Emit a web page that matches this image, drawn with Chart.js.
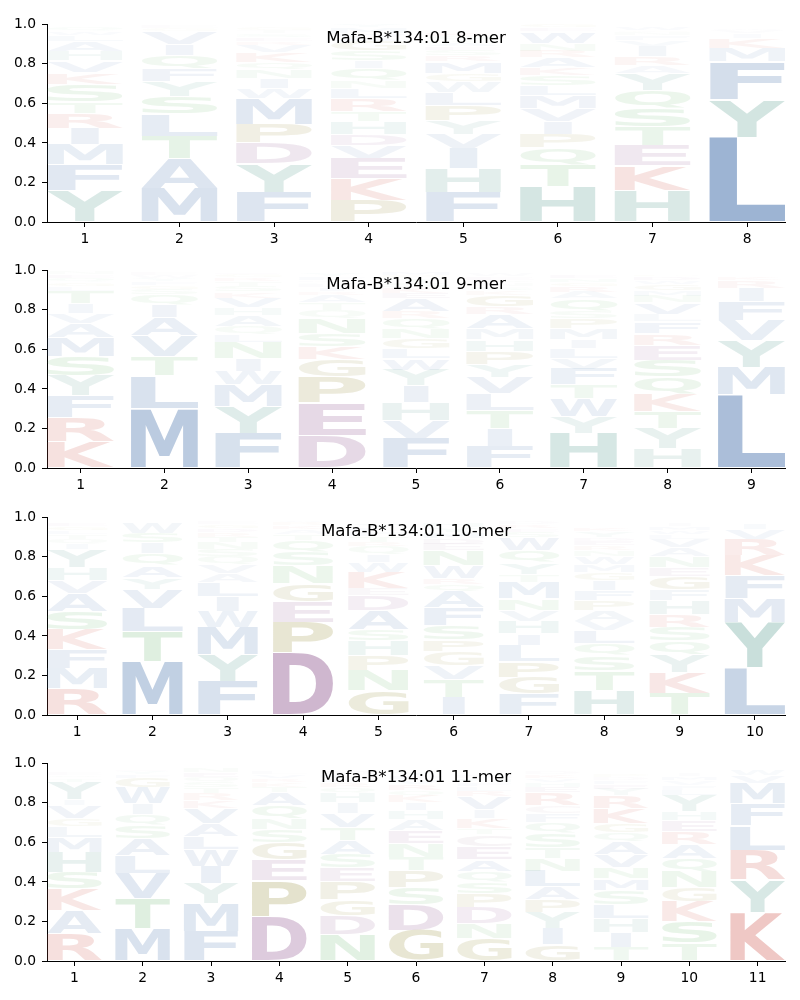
<!DOCTYPE html>
<html>
<head>
<meta charset="utf-8">
<script src="https://cdn.jsdelivr.net/npm/chart.js@4.4.1/dist/chart.umd.min.js"></script>
<style>
  body { margin: 0; background: #fff; }
  #wrap { position: relative; width: 800px; height: 1000px; overflow: hidden; }
  canvas { position: absolute; left: 0; }
</style>
</head>
<body>
<div id="wrap">
  <canvas id="c8" width="800" height="242" style="top:10px"></canvas>
  <canvas id="c9" width="800" height="242" style="top:256px"></canvas>
  <canvas id="c10" width="800" height="242" style="top:503px"></canvas>
  <canvas id="c11" width="800" height="242" style="top:749px"></canvas>
</div>
<script>
// letter frequencies per position, listed bottom -> top
const mer8 = [
  [['Y',.16],['F',.13],['M',.10],['I',.085],['R',.075],['T',.06],['S',.085],['K',.06],['V',.06],['H',.05],['A',.05],['L',.03],['W',.02],['Q',.02]],
  [['M',.17],['A',.15],['T',.115],['L',.11],['S',.09],['Y',.075],['F',.065],['Q',.065],['I',.06],['V',.065],['G',.015],['E',.015]],
  [['F',.15],['Y',.145],['D',.105],['P',.095],['M',.13],['W',.05],['I',.05],['N',.045],['Q',.035],['K',.05],['V',.04],['R',.02],['E',.02],['S',.02],['T',.015],['G',.015]],
  [['P',.11],['K',.11],['E',.10],['V',.065],['D',.06],['H',.065],['T',.05],['R',.065],['L',.05],['N',.04],['Q',.06],['I',.04],['S',.05],['G',.05],['A',.02],['W',.02],['M',.03],['Y',.015]],
  [['F',.15],['H',.12],['I',.10],['V',.075],['Y',.07],['P',.075],['L',.065],['W',.055],['G',.04],['M',.06],['R',.03],['S',.03],['E',.02],['A',.02],['T',.01],['Q',.02],['K',.02]],
  [['H',.18],['T',.11],['Q',.085],['P',.07],['I',.065],['V',.065],['M',.065],['L',.05],['S',.05],['K',.04],['A',.05],['R',.035],['N',.04],['W',.06],['E',.02],['G',.02]],
  [['H',.16],['K',.125],['E',.10],['T',.095],['S',.095],['Q',.09],['Y',.085],['A',.04],['R',.045],['I',.055],['V',.03],['F',.025],['N',.015],['G',.01],['W',.02]],
  [['L',.43],['Y',.19],['F',.19],['M',.07],['K',.05],['I',.025],['V',.015],['W',.01]]
];

const mer9 = [
  [['K',.135],['R',.12],['F',.11],['Y',.10],['S',.10],['M',.095],['A',.07],['V',.05],['I',.05],['T',.065],['L',.025],['G',.02],['Q',.02],['E',.02],['N',.015]],
  [['M',.30],['L',.165],['T',.10],['V',.105],['A',.09],['I',.065],['Q',.05],['S',.03],['G',.02],['F',.02],['Y',.015],['W',.015],['E',.015]],
  [['F',.175],['Y',.135],['M',.11],['W',.07],['I',.065],['N',.08],['L',.04],['Q',.04],['A',.055],['H',.04],['V',.05],['K',.03],['S',.03],['T',.025],['R',.02],['G',.015],['E',.01]],
  [['D',.165],['E',.165],['P',.13],['G',.09],['K',.065],['S',.065],['N',.075],['Q',.04],['T',.04],['A',.04],['R',.02],['I',.02],['L',.015],['H',.01],['M',.01],['F',.02],['Y',.015]],
  [['F',.15],['V',.09],['H',.09],['I',.085],['Y',.08],['W',.06],['L',.05],['G',.05],['N',.05],['Q',.05],['R',.035],['A',.065],['E',.03],['K',.03],['S',.025],['T',.02],['P',.015],['M',.02]],
  [['F',.11],['I',.09],['T',.09],['L',.085],['V',.085],['Y',.065],['P',.065],['H',.06],['M',.055],['A',.07],['R',.04],['G',.06],['K',.025],['S',.02],['N',.015],['Q',.015],['E',.02],['W',.015]],
  [['H',.175],['Y',.085],['W',.09],['T',.07],['F',.08],['V',.055],['L',.05],['I',.045],['M',.055],['P',.05],['S',.04],['Q',.06],['A',.035],['R',.03],['G',.02],['N',.02],['E',.02]],
  [['H',.10],['Y',.10],['T',.085],['K',.09],['Q',.085],['S',.085],['E',.075],['R',.06],['F',.06],['L',.035],['V',.06],['N',.035],['M',.03],['G',.03],['W',.02],['D',.02],['P',.01]],
  [['L',.37],['M',.14],['Y',.135],['V',.10],['F',.095],['I',.07],['R',.04],['K',.02]]
];

const mer10 = [
  [['R',.135],['M',.10],['F',.095],['K',.10],['S',.095],['A',.09],['V',.065],['H',.065],['Y',.09],['I',.03],['Q',.025],['T',.025],['L',.02],['G',.02],['E',.02]],
  [['M',.27],['T',.15],['L',.12],['V',.095],['Y',.06],['A',.06],['Q',.06],['I',.055],['S',.05],['W',.055]],
  [['F',.17],['Y',.135],['M',.14],['W',.08],['I',.075],['L',.07],['A',.045],['V',.045],['Q',.04],['S',.035],['N',.035],['T',.03],['R',.025],['D',.02],['G',.02],['E',.015]],
  [['D',.315],['P',.155],['E',.105],['G',.09],['N',.09],['S',.07],['Q',.06],['T',.03],['A',.025],['K',.02],['R',.015],['V',.01]],
  [['G',.125],['N',.10],['P',.075],['H',.075],['S',.06],['A',.095],['D',.075],['E',.035],['K',.08],['W',.05],['I',.04],['Q',.04],['R',.025],['T',.03],['F',.025],['L',.02],['Y',.02]],
  [['I',.09],['T',.09],['V',.07],['G',.07],['P',.06],['S',.075],['F',.09],['A',.08],['Q',.035],['R',.03],['W',.065],['N',.075],['E',.035],['D',.03],['M',.03],['Y',.025],['H',.025]],
  [['F',.105],['G',.085],['P',.08],['L',.08],['I',.06],['H',.065],['V',.055],['N',.06],['M',.08],['T',.04],['Y',.06],['Q',.06],['W',.065],['S',.03],['E',.02],['R',.02],['D',.015]],
  [['H',.125],['T',.10],['S',.075],['Q',.06],['L',.065],['V',.05],['A',.055],['P',.05],['F',.05],['I',.05],['G',.04],['M',.04],['W',.04],['N',.03],['R',.025],['E',.025],['D',.02],['Y',.03],['K',.02]],
  [['T',.11],['K',.105],['Y',.09],['Q',.07],['S',.07],['R',.065],['H',.07],['F',.055],['G',.065],['E',.045],['N',.055],['A',.045],['V',.045],['L',.025],['W',.02],['M',.02],['I',.015]],
  [['L',.24],['Y',.23],['M',.12],['F',.115],['K',.10],['R',.085],['V',.05],['I',.03]]
];

const mer11 = [
  [['R',.14],['A',.115],['K',.11],['S',.085],['H',.10],['M',.075],['L',.055],['G',.04],['V',.065],['I',.03],['Y',.09],['T',.02],['Q',.015],['E',.015]],
  [['M',.165],['T',.15],['V',.13],['L',.09],['A',.085],['S',.065],['Q',.055],['I',.055],['W',.08],['G',.05],['F',.02],['Y',.015],['E',.01]],
  [['F',.15],['M',.14],['Y',.10],['I',.09],['W',.085],['L',.065],['A',.065],['V',.075],['K',.04],['R',.035],['T',.03],['S',.03],['Q',.025],['E',.025],['N',.025]],
  [['D',.225],['P',.18],['E',.105],['G',.09],['S',.065],['N',.055],['Q',.065],['A',.065],['T',.03],['K',.025],['R',.02],['V',.02],['L',.015]],
  [['N',.135],['D',.095],['G',.08],['P',.09],['E',.07],['S',.07],['A',.07],['T',.065],['V',.07],['I',.055],['H',.05],['Q',.03],['R',.025],['F',.02],['L',.02],['M',.015]],
  [['G',.155],['D',.13],['S',.085],['P',.085],['T',.07],['N',.07],['E',.065],['A',.055],['H',.045],['I',.04],['K',.035],['Q',.03],['R',.03],['V',.025],['F',.02],['Y',.02]],
  [['G',.115],['N',.075],['D',.08],['P',.07],['S',.06],['Q',.055],['A',.06],['E',.065],['C',.06],['T',.03],['K',.05],['I',.045],['V',.065],['R',.03],['L',.025],['F',.02],['H',.02],['M',.015]],
  [['G',.085],['I',.08],['Y',.08],['P',.065],['A',.065],['L',.08],['N',.065],['T',.055],['S',.07],['Q',.055],['F',.045],['C',.04],['R',.065],['E',.03],['H',.025],['V',.02],['K',.02],['D',.015]],
  [['T',.07],['I',.075],['H',.07],['L',.07],['S',.07],['M',.06],['N',.06],['V',.065],['A',.065],['Q',.045],['G',.045],['K',.075],['R',.065],['Y',.035],['E',.025],['F',.02],['D',.015],['P',.015]],
  [['T',.09],['S',.11],['K',.10],['G',.07],['N',.08],['Q',.07],['A',.07],['R',.065],['E',.055],['H',.045],['Y',.08],['L',.03],['F',.025],['V',.025],['M',.02],['I',.015]],
  [['K',.245],['Y',.165],['R',.15],['L',.125],['F',.11],['M',.105],['V',.04],['W',.03]]
];

const titles = ['Mafa-B*134:01 8-mer', 'Mafa-B*134:01 9-mer', 'Mafa-B*134:01 10-mer', 'Mafa-B*134:01 11-mer'];
const yTicks = [0, 0.2, 0.4, 0.6, 0.8, 1.0];

// residue colours (alpha follows the letter height)
const baseColors = {
  A: [80,121,176], V: [80,121,176], L: [80,121,176], I: [80,121,176], M: [80,121,176], F: [80,121,176], W: [80,121,176],
  Y: [75,148,135], H: [75,148,135],
  D: [138,79,138], E: [138,79,138],
  K: [205,83,71], R: [205,83,71],
  P: [140,131,41], G: [140,131,41],
  N: [90,175,95], Q: [90,175,95], S: [90,175,95], T: [90,175,95],
  C: [150,120,140]
};
function colorFor(ch, h) {
  const c = baseColors[ch] || [120,120,120];
  const a = Math.min(1, h * 1.3);
  return `rgba(${c[0]},${c[1]},${c[2]},${a.toFixed(3)})`;
}

const GLYPH_FONT = 'bold 200px "DejaVu Sans"';
const boxes = {};
function glyphBox(ctx, ch) {
  if (!boxes[ch]) {
    ctx.save();
    ctx.font = GLYPH_FONT;
    const m = ctx.measureText(ch);
    boxes[ch] = { l: m.actualBoundingBoxLeft, r: m.actualBoundingBoxRight, a: m.actualBoundingBoxAscent, d: m.actualBoundingBoxDescent };
    ctx.restore();
  }
  return boxes[ch];
}
function drawGlyph(ctx, ch, x, y, w, h, color) {
  const b = glyphBox(ctx, ch), ref = glyphBox(ctx, 'L');
  const gw = b.l + b.r, gh = b.a + b.d;
  const sx = Math.min(w / gw, w / (ref.l + ref.r));
  const sy = Math.max(h - 1, 0.5) / gh;
  const dw = gw * sx;
  ctx.save();
  ctx.translate(x + (w - dw) / 2, y + 0.5);
  ctx.scale(sx, sy);
  ctx.font = GLYPH_FONT;
  ctx.fillStyle = color;
  ctx.textAlign = 'left';
  ctx.textBaseline = 'alphabetic';
  ctx.fillText(ch, b.l, b.a);
  ctx.restore();
}

const logoPlugin = {
  id: 'logo',
  afterDatasetsDraw(chart) {
    const ctx = chart.ctx;
    const area = chart.chartArea;
    ctx.save();
    ctx.beginPath();
    ctx.rect(area.left, area.top - 2, area.right - area.left, area.bottom - area.top + 2);
    ctx.clip();
    chart.data.datasets.forEach((ds, d) => {
      const meta = chart.getDatasetMeta(d);
      meta.data.forEach((bar, i) => {
        const ch = ds.letters[i];
        const h = ds.data[i].y;
        if (!ch || !h) return;
        const p = bar.getProps(['x', 'y', 'base', 'width'], true);
        const top = Math.min(p.y, p.base);
        drawGlyph(ctx, ch, p.x - p.width / 2, top, p.width, Math.abs(p.base - p.y), colorFor(ch, h));
      });
    });
    ctx.restore();
  },
  afterDraw(chart, args, opts) {
    const ctx = chart.ctx;
    const area = chart.chartArea;
    ctx.save();
    ctx.font = '16.67px "DejaVu Sans"';
    ctx.fillStyle = '#000';
    ctx.textAlign = 'center';
    ctx.textBaseline = 'middle';
    ctx.fillText(opts.title, (area.left + area.right) / 2, area.top + 14);
    ctx.restore();
  }
};

Chart.defaults.font.family = '"DejaVu Sans"';

function makeLogo(id, cols, title) {
  const n = cols.length;
  const positions = cols.map((c, i) => i + 1);
  const depth = Math.max(...cols.map(c => c.length));
  const datasets = [];
  for (let r = 0; r < depth; r++) {
    datasets.push({
      data: cols.map((c, i) => ({ x: positions[i], y: c[r] ? c[r][1] : 0 })),
      letters: cols.map(c => c[r] ? c[r][0] : null),
      backgroundColor: 'rgba(0,0,0,0)',
      borderWidth: 0,
      barPercentage: 0.8,
      categoryPercentage: 1
    });
  }
  const tickFont = { family: '"DejaVu Sans"', size: 13.89 };
  new Chart(document.getElementById(id), {
    type: 'bar',
    data: { datasets },
    plugins: [logoPlugin],
    options: {
      responsive: false,
      animation: false,
      events: [],
      layout: { padding: { top: 12, right: 15, left: 0, bottom: 0 } },
      plugins: { legend: { display: false }, tooltip: { enabled: false }, logo: { title } },
      scales: {
        x: {
          type: 'linear', stacked: true, offset: false,
          min: 0.6, max: n + 0.4,
          afterBuildTicks: s => { s.ticks = positions.map(v => ({ value: v })); },
          afterFit: s => { s.height = 30; },
          ticks: { color: '#000', font: tickFont, padding: 4, maxRotation: 0, autoSkip: false },
          grid: { offset: false, drawOnChartArea: false, tickLength: 5, color: '#000' },
          border: { color: '#000', width: 1 }
        },
        y: {
          stacked: true, min: 0, max: 1,
          afterBuildTicks: s => { s.ticks = yTicks.map(v => ({ value: v })); },
          afterFit: s => { s.width = 47; },
          ticks: { color: '#000', font: tickFont, padding: 6, callback: v => v.toFixed(1) },
          grid: { drawOnChartArea: false, tickLength: 5, color: '#000' },
          border: { color: '#000', width: 1 }
        }
      }
    }
  });
}

makeLogo('c8', mer8, titles[0]);
makeLogo('c9', mer9, titles[1]);
makeLogo('c10', mer10, titles[2]);
makeLogo('c11', mer11, titles[3]);
</script>
</body>
</html>
